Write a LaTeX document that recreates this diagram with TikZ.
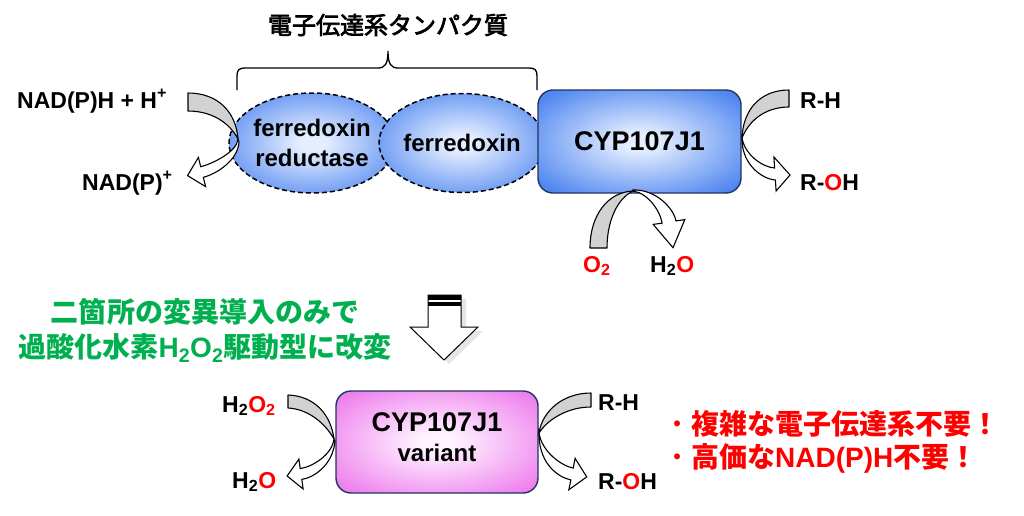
\documentclass[tikz,border=0pt]{standalone}
\usepackage{fontspec}
\setmainfont{Liberation Sans}
\newfontfamily\cjk{Noto Sans CJK JP}
\newfontfamily\cjktitle[FakeBold=3]{Noto Sans CJK JP}
\usetikzlibrary{shapes.geometric}
\definecolor{bout}{HTML}{4F86F0}
\definecolor{bin}{HTML}{E4EEFF}
\definecolor{pout}{HTML}{EE80EE}
\definecolor{pin}{HTML}{FFF4FF}
\definecolor{boxedge}{HTML}{1F3560}
\definecolor{grn}{HTML}{00B050}
\definecolor{rd}{HTML}{FF0000}
\definecolor{bandgray}{HTML}{D2D2D2}
\pgfdeclareradialshading{blueglow}{\pgfpointorigin}{color(0bp)=(bin); color(4bp)=(bin); color(32bp)=(bout); color(50bp)=(bout)}
\pgfdeclareradialshading{pinkglow}{\pgfpointorigin}{color(0bp)=(pin); color(4bp)=(pin); color(32bp)=(pout); color(50bp)=(pout)}
\newcommand\myfs[2]{\fontsize{#1}{#2}\selectfont}
\begin{document}
\begin{tikzpicture}[x=1pt,y=-1pt,
  lbl/.style={inner sep=0pt, font=\myfs{23}{28}\bfseries},
  ell/.style={ellipse, draw=black, dashed, dash pattern=on 5pt off 3pt, line width=1.5pt, shading=blueglow, align=center, inner sep=0pt, font=\myfs{24}{30}\bfseries},
  protbox/.style={rectangle, rounded corners=15pt, draw=boxedge, line width=1.4pt, inner sep=0pt, font=\myfs{27}{30}\bfseries},
  grayband/.style={fill=bandgray, draw=black, line width=1.1pt, line join=round},
  whitearrow/.style={fill=white, draw=black, line width=1.1pt, line join=miter},
  note/.style={inner sep=0pt, font=\myfs{28}{35}\bfseries}]
\useasboundingbox[fill=white] (0,0) rectangle (1024,515);

% title and brace
\node[inner sep=0pt, font=\myfs{24}{28}] (title) at (388,25) {\cjktitle 電子伝達系タンパク質};
\draw[line width=1.3pt] (237,90) -- (237,76) .. controls (237,70) and (239,68) .. (245,68) -- (378,68) .. controls (385,68) and (388,64) .. (388,51) .. controls (388,64) and (391,68) .. (398,68) -- (529,68) .. controls (535,68) and (537,70) .. (537,76) -- (537,90);

% proteins
\node[ell, minimum width=148pt, minimum height=100pt] (fdr) at (312,143) {ferredoxin\\reductase};
\node[ell, minimum width=150pt, minimum height=99pt] (fdx) at (462,143) {ferredoxin};
\node[protbox, shading=blueglow, minimum width=203pt, minimum height=103pt] (cyp) at (639.5,141.5) {CYP107J1};
\node[protbox, shading=pinkglow, minimum width=202pt, minimum height=102pt] (var) at (437,442) {};
\node[inner sep=0pt, align=center, font=\myfs{27}{30}\bfseries] (vartext) at (437,437) {CYP107J1\\\myfs{24}{30}variant};

% labels
\node[lbl, anchor=base west] (nadph) at (17,108) {NAD(P)H + H\textsuperscript{+}};
\node[lbl, anchor=base west] (nadp) at (82,190) {NAD(P)\textsuperscript{+}};
\node[lbl, anchor=base west] (rh1) at (800,108) {R-H};
\node[lbl, anchor=base west] (roh1) at (800,190) {R-{\color{rd}O}H};
\node[lbl, anchor=base west] (o2) at (583,272) {\color{rd}O\textsubscript{2}};
\node[lbl, anchor=base west] (h2o1) at (650,272) {H\textsubscript{2}{\color{rd}O}};
\node[lbl, anchor=base west] (h2o2) at (222,412) {H\textsubscript{2}{\color{rd}O\textsubscript{2}}};
\node[lbl, anchor=base west] (h2o) at (232,488) {H\textsubscript{2}{\color{rd}O}};
\node[lbl, anchor=base west] (rh2) at (598,410) {R-H};
\node[lbl, anchor=base west] (roh2) at (598,489) {R-{\color{rd}O}H};

% curved block arrows: top left
\draw[grayband] (188,93) .. controls (218,93) and (236,112) .. (238,139) .. controls (229,122) and (211,111) .. (188,111) -- cycle;
\draw[whitearrow] (238,139) .. controls (237,152) and (212.3,163.8) .. (200.7,166.7) -- (198.4,157.4) -- (187.5,175.6) -- (205.6,186.6) -- (203.3,177.3) .. controls (216.9,173.9) and (238,160) .. (239,142) -- cycle;
% top right
\draw[grayband] (789,90) .. controls (760,90) and (743,110) .. (742,138) .. controls (750,118) and (768,107) .. (789,107) -- cycle;
\draw[whitearrow] (742,138) .. controls (745,155) and (762.6,167.2) .. (774.6,168) -- (773.9,157) -- (790,175) -- (776.1,191) -- (775.4,180) .. controls (762,179) and (743,165) .. (742,141) -- cycle;
% bottom of CYP107J1
\draw[grayband] (590,248) .. controls (590,215) and (608,192) .. (633,191) .. controls (618,198) and (607,220) .. (607,248) -- cycle;
\draw[whitearrow] (633,191) .. controls (648,193) and (660.3,211.2) .. (662.1,223.1) -- (653.2,224.4) -- (673,247.7) -- (684.8,219.6) -- (675.9,220.9) .. controls (674.1,209) and (656,189) .. (633,190) -- cycle;
% variant left
\draw[grayband] (288,395) .. controls (315,396) and (331,415) .. (334,439) .. controls (325,423) and (308,409) .. (288,408) -- cycle;
\draw[whitearrow] (334,439) .. controls (332,455) and (312.1,466.9) .. (300.2,468.6) -- (298.9,459.1) -- (287.1,476) -- (303.1,488.9) -- (301.8,479.4) .. controls (313.7,477.7) and (333,465) .. (335,441) -- cycle;
% variant right
\draw[grayband] (591,393) .. controls (562,393) and (542,412) .. (539,433) .. controls (548,419) and (568,407) .. (591,407) -- cycle;
\draw[whitearrow] (539,433) .. controls (542,452) and (561.4,465.7) .. (573.2,468.1) -- (575.1,458.3) -- (586.7,476.9) -- (568.9,489.7) -- (570.8,479.9) .. controls (559,477.5) and (540,465) .. (539,436) -- cycle;

% big down arrow
\fill[black!10] (433,299) -- (466,299) -- (466,331) -- (483,331) -- (449,364) -- (417,331) -- (433,331) -- cycle;
\draw[fill=white, line width=1pt, line join=miter] (428,295) -- (461,295) -- (461,327) -- (478,327) -- (444,360) -- (410,327) -- (428,327) -- cycle;
\fill[black] (428,295) rectangle (461,299.5);
\fill[black] (428,301.5) rectangle (461,305.5);
\coordinate (arrtop) at (444,295);

% green note
\node[note, text=grn, align=center] (mod) at (205,330.5) {{\cjk 二箇所の変異導入のみで}\\{\cjk 過酸化水素}H\textsubscript{2}O\textsubscript{2}{\cjk 駆動型に改変}};
% red note
\node[note, text=rd, align=left, anchor=west, font=\myfs{28}{33}\bfseries] (merit) at (663,441.5) {{\cjk\mdseries ・}{\cjk 複雑な電子伝達系不要！}\\{\cjk\mdseries ・}{\cjk 高価な}NAD(P)H{\cjk 不要！}};
\end{tikzpicture}
\end{document}
